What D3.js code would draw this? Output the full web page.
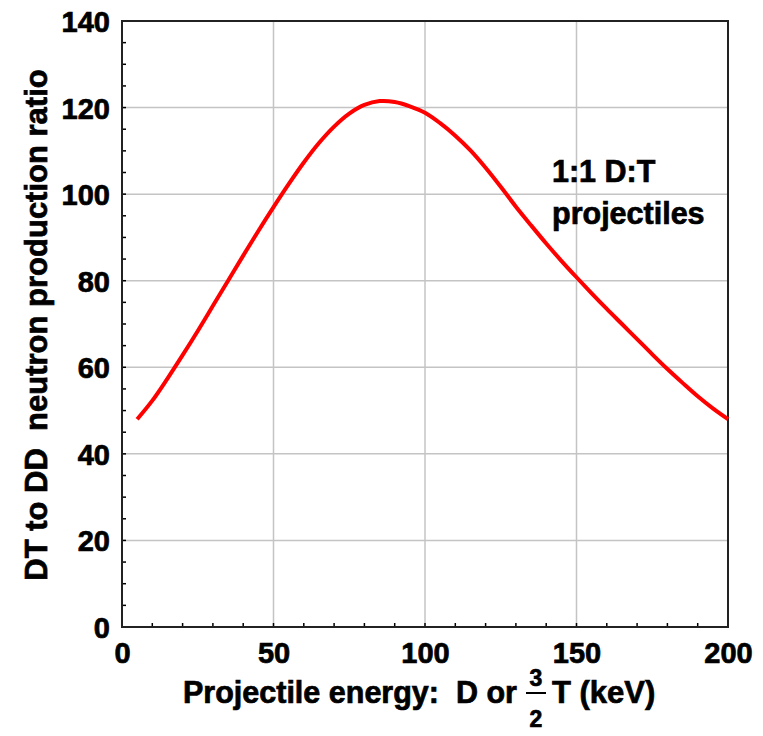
<!DOCTYPE html>
<html>
<head>
<meta charset="utf-8">
<script src="https://cdn.jsdelivr.net/npm/d3@7"></script>
<style>
  html, body { margin: 0; padding: 0; background: #fff; }
  svg text { font-family: "Liberation Sans", Arial, sans-serif; font-weight: bold; fill: #000;
             stroke: #000; stroke-width: 0.7px; }
</style>
</head>
<body>
<svg id="chart" width="763" height="736"></svg>
<script>
// Data
const energies = [5,10,15,20,25,30,35,40,45,50,55,60,65,70,75,80,85,90,95,100,
                  105,110,115,120,125,130,135,140,145,150,155,160,165,170,175,180,185,190,195,200];
const ratios = [48,52.3,57.4,62.8,68.4,74.2,80,85.8,91.5,97,102.3,107.3,111.8,115.6,118.6,120.6,121.5,121.3,120.3,118.8,
                116.4,113.5,110.1,106.1,101.7,97.1,92.8,88.6,84.6,80.8,77.1,73.5,70,66.5,63,59.6,56.4,53.3,50.5,48];
const xTicks = [0,50,100,150,200];
const yTicks = [0,20,40,60,80,100,120,140];
const xMinor = d3.range(0, 201, 10);
const yMinor = d3.range(0, 141, 5);
const annotation = ["1:1 D:T", "projectiles"];
const yTitle = "DT to DD  neutron production ratio";

(function () {
const svg = d3.select("#chart");
const mL = 122, mR = 728, mT = 21, mB = 627;
const x = d3.scaleLinear().domain([0, 200]).range([mL, mR]);
const y = d3.scaleLinear().domain([0, 140]).range([mB, mT]);

// gridlines
svg.append("g").selectAll("line").data(xTicks.filter(d => d > 0 && d < 200)).join("line")
  .attr("x1", d => x(d)).attr("x2", d => x(d)).attr("y1", mT).attr("y2", mB)
  .attr("stroke", "#c4c4c4").attr("stroke-width", 1.5);
svg.append("g").selectAll("line").data(yTicks.filter(d => d > 0 && d < 140)).join("line")
  .attr("x1", mL).attr("x2", mR).attr("y1", d => y(d)).attr("y2", d => y(d))
  .attr("stroke", "#c4c4c4").attr("stroke-width", 1.5);

// minor ticks (inside)
svg.append("g").selectAll("line").data(xMinor).join("line")
  .attr("x1", d => x(d)).attr("x2", d => x(d)).attr("y1", mB).attr("y2", mB - 4)
  .attr("stroke", "#000").attr("stroke-width", 1.5);
svg.append("g").selectAll("line").data(yMinor).join("line")
  .attr("x1", mL).attr("x2", mL + 4).attr("y1", d => y(d)).attr("y2", d => y(d))
  .attr("stroke", "#000").attr("stroke-width", 1.5);

// frame
svg.append("rect").attr("x", mL).attr("y", mT).attr("width", mR - mL).attr("height", mB - mT)
  .attr("fill", "none").attr("stroke", "#222").attr("stroke-width", 2);

// axes tick labels
const xAxis = d3.axisBottom(x).tickValues(xTicks).tickSize(0).tickPadding(0).tickFormat(d3.format("d"));
const gx = svg.append("g").attr("transform", `translate(0,${mB})`).call(xAxis);
gx.select(".domain").remove();
gx.selectAll("text").attr("y", 36).attr("dy", null).style("font-size", "29px")
  .style("font-family", "Liberation Sans, Arial, sans-serif").style("font-weight", "bold").attr("fill", "#000");

const yAxis = d3.axisLeft(y).tickValues(yTicks).tickSize(0).tickPadding(12).tickFormat(d3.format("d"));
const gy = svg.append("g").attr("transform", `translate(${mL},0)`).call(yAxis);
gy.select(".domain").remove();
gy.selectAll("text").attr("dy", "0.36em").style("font-size", "29px")
  .style("font-family", "Liberation Sans, Arial, sans-serif").style("font-weight", "bold").attr("fill", "#000");

// curve
const line = d3.line().x((d, i) => x(energies[i])).y(d => y(d)).curve(d3.curveCatmullRom.alpha(0.5));
svg.append("path").datum(ratios).attr("d", line)
  .attr("fill", "none").attr("stroke", "#ff0000").attr("stroke-width", 4).attr("stroke-linejoin", "round");

// annotation
svg.append("text").attr("x", 552).attr("y", 182).style("font-size", "30.5px").text(annotation[0]);
svg.append("text").attr("x", 552).attr("y", 224).style("font-size", "30.5px").text(annotation[1]);

// y title
svg.append("text").attr("transform", "translate(47,325) rotate(-90)").attr("text-anchor", "middle")
  .style("font-size", "31px").style("white-space", "pre").text(yTitle);

// x title with fraction
svg.append("text").attr("x", 183).attr("y", 703).style("font-size", "30.5px").style("white-space", "pre")
  .text("Projectile energy:  D or");
svg.append("text").attr("x", 536).attr("y", 686).attr("text-anchor", "middle").style("font-size", "23px").text("3");
svg.append("line").attr("x1", 526).attr("x2", 546).attr("y1", 693).attr("y2", 693).attr("stroke", "#000").attr("stroke-width", 2);
svg.append("text").attr("x", 536).attr("y", 727).attr("text-anchor", "middle").style("font-size", "23px").text("2");
svg.append("text").attr("x", 552).attr("y", 703).style("font-size", "31px").text("T (keV)");
})();
</script>
</body>
</html>
